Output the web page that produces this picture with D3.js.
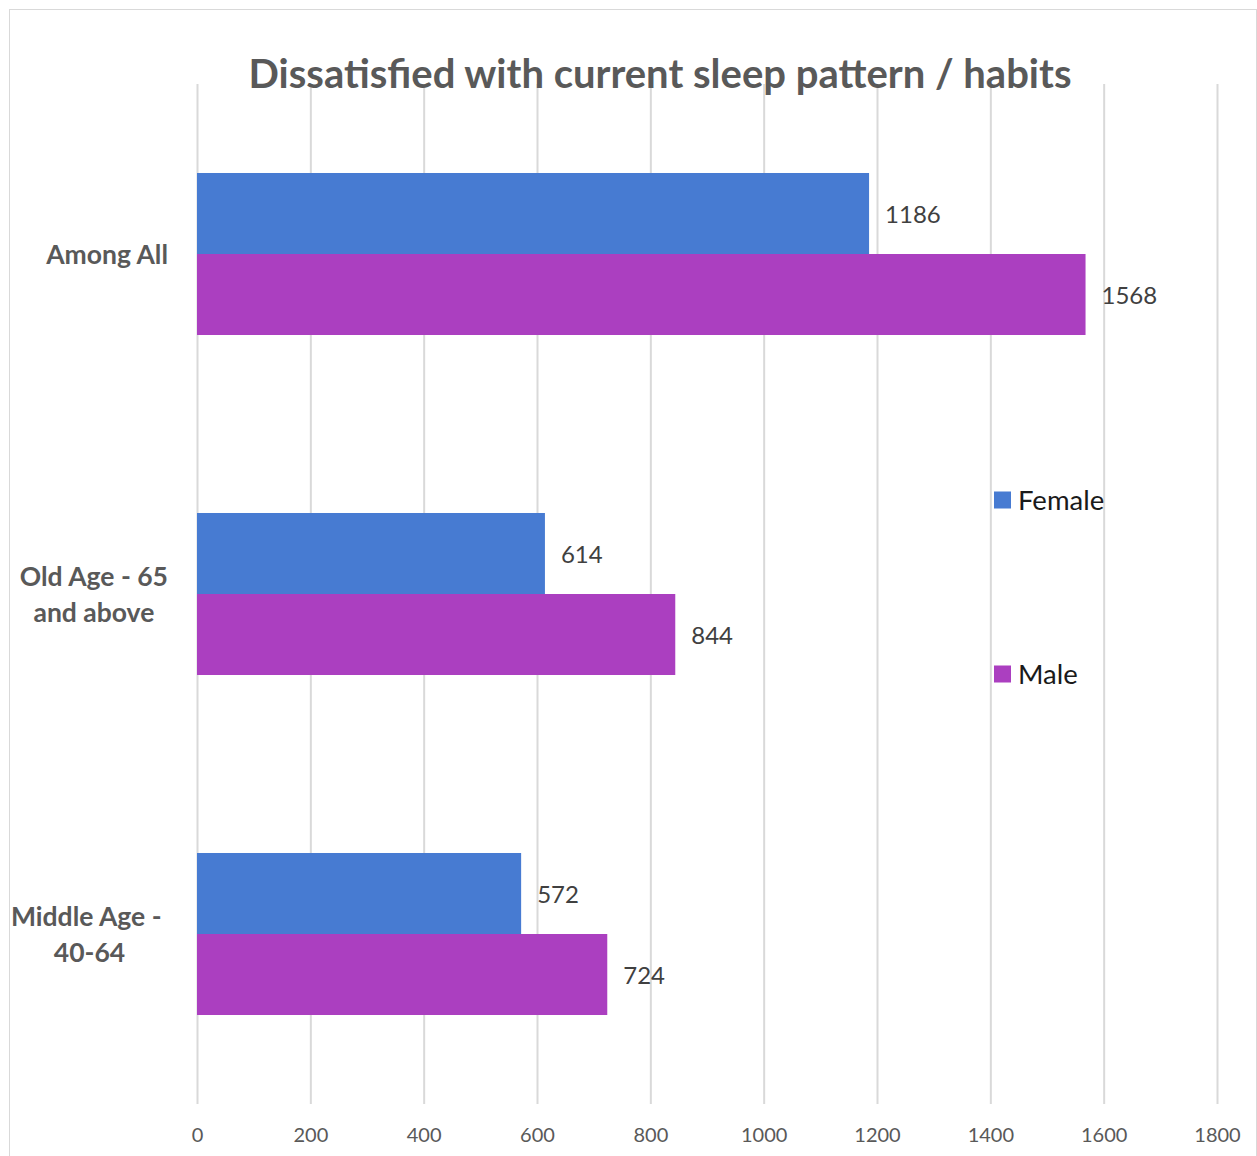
<!DOCTYPE html>
<html><head><meta charset="utf-8">
<script src="https://cdn.jsdelivr.net/npm/d3@7"></script>
<style>body{margin:0;background:#fff}svg{display:block}text{font-family:Lato,"Open Sans",sans-serif;white-space:pre}</style>
</head><body>
<script>
const categories = ["Among All", "Old Age - 65 and above", "Middle Age - 40-64"];
const categoryLines = [["Among All"], ["Old Age - 65", "and above"], ["Middle Age - ", "40-64"]];
const seriesNames = ["Female", "Male"];
const female = [1186, 614, 572];
const male = [1568, 844, 724];
const xTicks = [0, 200, 400, 600, 800, 1000, 1200, 1400, 1600, 1800];
const title = "Dissatisfied with current sleep pattern / habits";
const colors = ["#477bd2", "#ab3fc0"];

const W = 1257, H = 1156;
const svg = d3.select("body").append("svg").attr("width", W).attr("height", H);
svg.append("rect").attr("x", 9.5).attr("y", 9.5).attr("width", 1247).attr("height", 1160)
  .attr("fill", "#fff").attr("stroke", "#d9d9d9").attr("stroke-width", 1);

const x = d3.scaleLinear().domain([0, 1800]).range([197, 1217]);
const y = d3.scaleBand().domain(categories).range([84, 1104]).paddingInner(0.5235).paddingOuter(0.26175);
const y1 = d3.scaleBand().domain(seriesNames).range([0, y.bandwidth()]);

// gridlines
svg.append("g").selectAll("line").data(xTicks).join("line")
  .attr("x1", d => x(d) + 0.5).attr("x2", d => x(d) + 0.5)
  .attr("y1", 84).attr("y2", 1104)
  .attr("stroke", "#d9d9d9").attr("stroke-width", 2);

// axis labels
const ax = svg.append("g").attr("transform", "translate(0,1104)")
  .call(d3.axisBottom(x).tickValues(xTicks).tickSize(0).tickPadding(24).tickFormat(d3.format("d")));
ax.select(".domain").remove();
ax.selectAll("text").attr("font-size", 20).attr("fill", "#595959").attr("font-family", "Lato,'Open Sans',sans-serif");

// bars
const data = categories.map((c, i) => ({cat: c, vals: [female[i], male[i]]}));
const groups = svg.append("g").selectAll("g").data(data).join("g")
  .attr("transform", d => `translate(0,${y(d.cat)})`);
groups.selectAll("rect").data(d => d.vals.map((v, j) => ({v, s: seriesNames[j], j}))).join("rect")
  .attr("x", x(0)).attr("y", d => y1(d.s)).attr("width", d => x(d.v) - x(0)).attr("height", y1.bandwidth())
  .attr("fill", d => colors[d.j]);
groups.selectAll("text.val").data(d => d.vals.map((v, j) => ({v, s: seriesNames[j]}))).join("text")
  .attr("class", "val")
  .attr("x", d => x(d.v) + 16).attr("y", d => y1(d.s) + y1.bandwidth() / 2)
  .attr("dy", "0.38em").attr("font-size", 24).attr("fill", "#404040").text(d => d.v);

// category labels
categories.forEach((c, i) => {
  const lines = categoryLines[i];
  const cy = y(c) + y.bandwidth() / 2;
  const g = svg.append("g");
  const ts = lines.map((l, k) => g.append("text").attr("font-size", 26.5).attr("font-weight", "bold")
    .attr("fill", "#595959").attr("text-anchor", "middle")
    .attr("y", cy + (k - (lines.length - 1) / 2) * 36).attr("dy", "0.36em").text(l));
  const maxW = d3.max(ts, t => t.node().getComputedTextLength());
  ts.forEach(t => t.attr("x", 168 - maxW / 2));
});

// title
svg.append("text").attr("x", 660).attr("y", 88).attr("text-anchor", "middle")
  .attr("font-size", 40).attr("font-weight", "bold").attr("fill", "#595959").text(title);

// legend
const legY = [500, 674];
seriesNames.forEach((s, i) => {
  svg.append("rect").attr("x", 994).attr("y", legY[i] - 8.5).attr("width", 17).attr("height", 17).attr("fill", colors[i]);
  svg.append("text").attr("x", 1018).attr("y", legY[i]).attr("dy", "0.36em")
    .attr("font-size", 27.5).attr("fill", "#1a1a1a").text(s);
});
</script>
</body></html>
